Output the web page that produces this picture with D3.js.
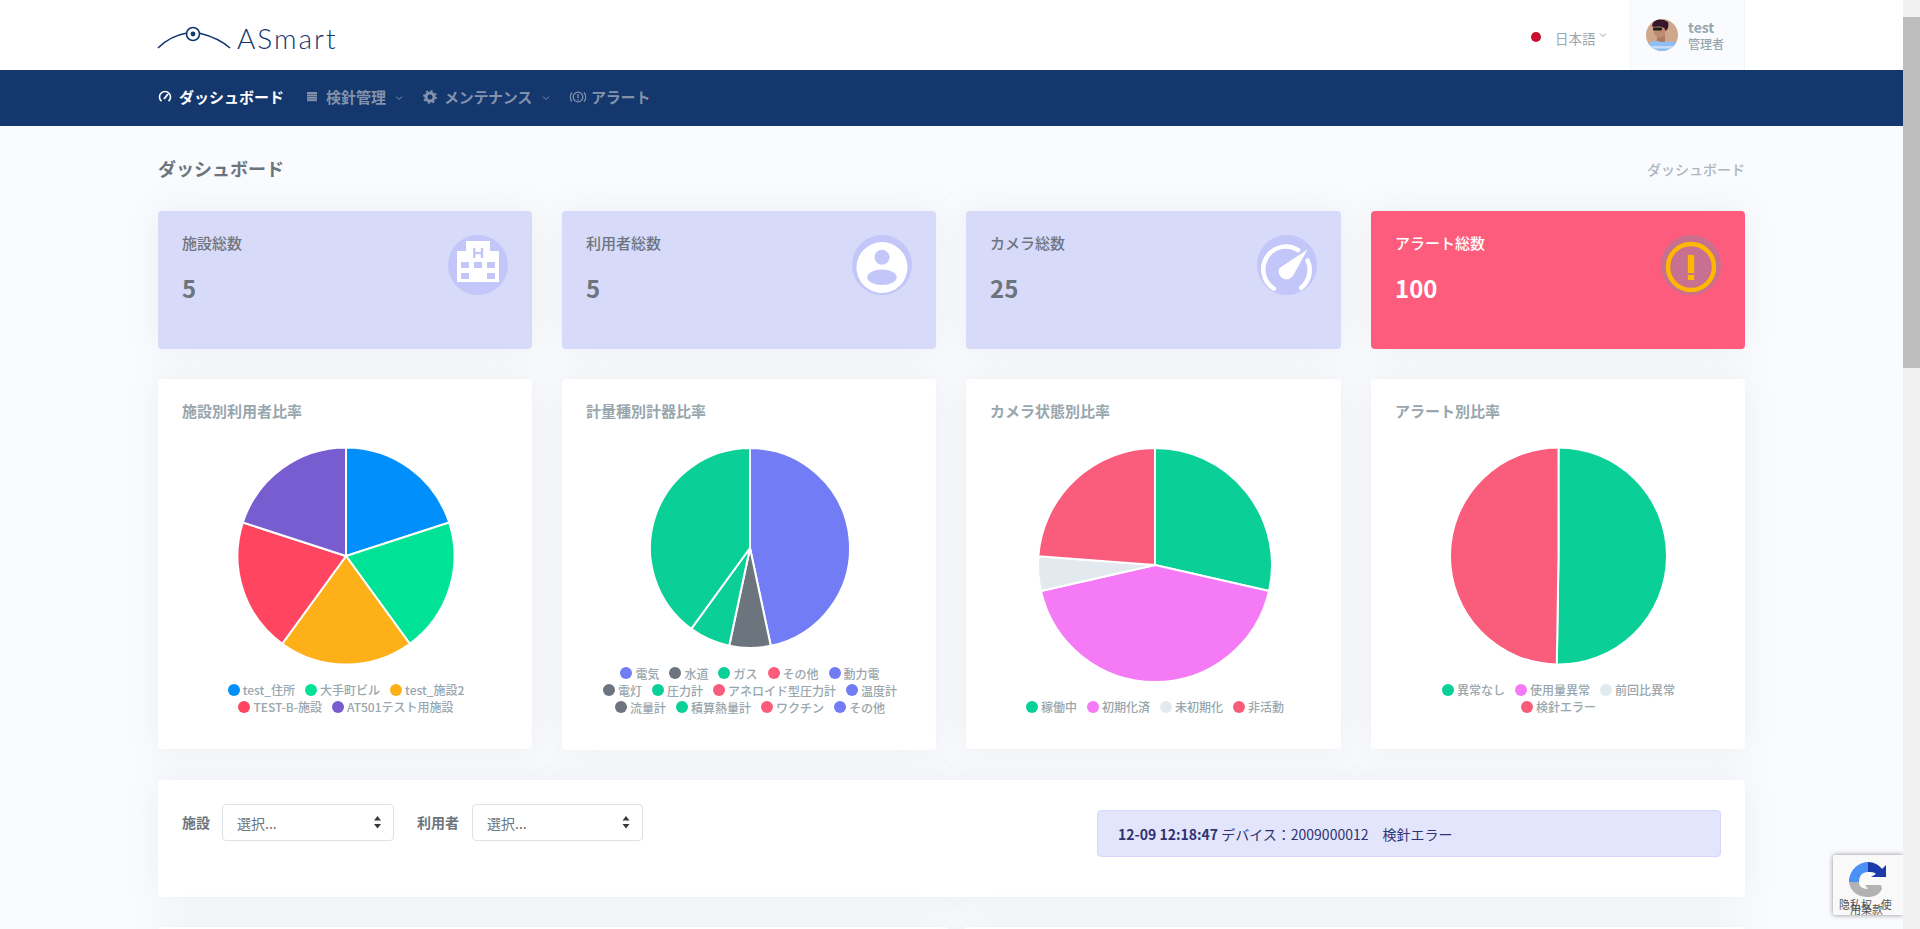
<!DOCTYPE html>
<html lang="ja">
<head>
<meta charset="utf-8">
<title>ダッシュボード</title>
<script src="https://d3js.org/d3.v7.min.js"></script>
<style>
  html, body { margin: 0; padding: 0; overflow: hidden; }
  body { width: 1920px; height: 929px; background: #fafbfe; font-family: "Noto Sans CJK JP", "Noto Sans", sans-serif; color: #6c757d; }
  #page { position: relative; width: 1920px; height: 929px; overflow: hidden; }
  .abs { position: absolute; white-space: nowrap; }
  .panel { position: absolute; background: #fff; border-radius: 4px; box-shadow: 0 0 35px rgba(154,161,171,.15); }
  .legend { position: absolute; width: 310px; display: flex; flex-wrap: wrap; justify-content: center; font-size: 12px; font-weight: 500; color: #98a6ad; line-height: 17px; }
  .legend .item { display: flex; align-items: center; margin: 0 5px; height: 17px; }
  .legend i { display: block; width: 12px; height: 12px; border-radius: 50%; margin-right: 3px; }
  svg { position: absolute; left: 0; top: 0; overflow: visible; }
</style>
</head>
<body>
<div id="page"></div>

<script>
// summary cards
const cardLabels = ["施設総数", "利用者総数", "カメラ総数", "アラート総数"];
const cardValues = [5, 5, 25, 100];

// pie 1
const facilityNames = ["test_住所", "大手町ビル", "test_施設2", "TEST-B-施設", "AT501テスト用施設"];
const facilityUsers = [1, 1, 1, 1, 1];
const facilityColors = ["#008ffb", "#00e396", "#feb019", "#ff4560", "#775dd0"];

// pie 2
const meterNames = ["電気", "水道", "ガス", "その他", "動力電", "電灯", "圧力計", "アネロイド型圧力計", "温度計", "流量計", "積算熱量計", "ワクチン", "その他"];
const meterCounts = [7, 1, 1, 0, 0, 0, 6, 0, 0, 0, 0, 0, 0];
const meterColors = ["#727cf5", "#6c757d", "#0acf97", "#fa5c7c", "#727cf5", "#6c757d", "#0acf97", "#fa5c7c", "#727cf5", "#6c757d", "#0acf97", "#fa5c7c", "#727cf5"];

// pie 3
const cameraNames = ["稼働中", "初期化済", "未初期化", "非活動"];
const cameraCounts = [6, 9, 1, 5];
const cameraColors = ["#0acf97", "#f57af5", "#e3eaef", "#fa5c7c"];

// pie 4
const alertNames = ["異常なし", "使用量異常", "前回比異常", "検針エラー"];
const alertCounts = [101, 0, 0, 100];
const alertColors = ["#0acf97", "#f57af5", "#e3eaef", "#fa5c7c"];

const navLabels = ["ダッシュボード", "検針管理", "メンテナンス", "アラート"];
const chartTitles = ["施設別利用者比率", "計量種別計器比率", "カメラ状態別比率", "アラート別比率"];

const page = d3.select("#page");

function box(x, y, w, h, bg) {
  return page.append("div").attr("class", "abs")
    .style("left", x + "px").style("top", y + "px")
    .style("width", w + "px").style("height", h + "px")
    .style("background", bg);
}
function label(x, cy, txt, size, weight, color) {
  return page.append("div").attr("class", "abs")
    .style("left", x + "px").style("top", (cy - 15) + "px")
    .style("line-height", "30px")
    .style("font-size", size + "px").style("font-weight", weight)
    .style("color", color).text(txt);
}
function panel(x, y, w, h) {
  return page.append("div").attr("class", "panel")
    .style("left", x + "px").style("top", y + "px")
    .style("width", w + "px").style("height", h + "px");
}

// header and menu bar
box(0, 0, 1903, 70, "#fff");
box(0, 70, 1903, 56, "#14376d");
box(1630, 0, 115, 70, "#fafbfe")
  .style("border-left", "1px solid #f1f3fa").style("border-right", "1px solid #f1f3fa").style("box-sizing", "border-box");

label(237, 38, "ASmart", 28, 300, "#14376d").style("font-family", "Lato").style("letter-spacing", "2px");
label(179, 97, navLabels[0], 15, 700, "#fff");
label(326, 97, navLabels[1], 15, 700, "#8392ab");
label(444, 97, navLabels[2], 15, 700, "#8392ab").style("letter-spacing", "-0.3px");
label(591, 97, navLabels[3], 15, 700, "#8392ab").style("letter-spacing", "-0.2px");
label(1555, 38, "日本語", 13.5, 400, "#98a6ad");
label(1688, 27, "test", 14, 700, "#98a6ad");
label(1688, 43.5, "管理者", 12, 500, "#98a6ad");

// page title
label(158, 168, "ダッシュボード", 18, 700, "#6c757d");
label(1647, 169, "ダッシュボード", 14, 500, "#adb5bd");

// cards sit in four equal columns
const cardX = [158, 562, 966, 1371];
const cardW = [374, 374, 375, 374];

cardLabels.forEach((t, i) => {
  const alert = i === 3;
  panel(cardX[i], 211, cardW[i], 138).style("background", alert ? "#fe5c7c" : "#d8daf9");
  label(cardX[i] + 24, 243, t, 15, 500, alert ? "#fff" : "#6c757d");
  label(cardX[i] + 24, 288, cardValues[i], 24, 700, alert ? "#fff" : "#6c757d");
});

// chart panels
chartTitles.forEach((t, i) => {
  panel(cardX[i], 379, cardW[i], i === 1 ? 371 : 370);
  label(cardX[i] + 24, 411, t, 15, 700, "#98a6ad");
});

// filter row
panel(158, 780, 1587, 117);
label(182, 822, "施設", 14, 700, "#6c757d");
label(417, 822, "利用者", 14, 700, "#6c757d");
[[222, 172], [472, 171]].forEach(([x, w]) => {
  box(x, 804, w, 37, "#fff").style("border", "1px solid #dee2e6").style("border-radius", "4px").style("box-sizing", "border-box");
  label(x + 15, 823, "選択...", 14, 400, "#6c757d");
});
box(1097, 810, 624, 47, "#e3e5fc").style("border", "1px solid #d5d8fb").style("border-radius", "4px").style("box-sizing", "border-box");
const alertLine = label(1118, 834, "", 14, 400, "#2f3371");
alertLine.append("b").text("12-09 12:18:47");
alertLine.append("span").text(" デバイス：2009000012　検針エラー");

// next row of panels, cut by the window
panel(158, 927, 791, 60);
panel(964, 927, 781, 60);

// all the vector work goes in one overlay
const svg = page.append("svg").attr("width", 1920).attr("height", 929);

// pies
const pies = [
  {cx: 346, cy: 556, r: 108.5, legendY: 681, names: facilityNames, values: facilityUsers, colors: facilityColors},
  {cx: 750, cy: 548, r: 100, legendY: 664.5, names: meterNames, values: meterCounts, colors: meterColors},
  {cx: 1155, cy: 565, r: 117, legendY: 698, names: cameraNames, values: cameraCounts, colors: cameraColors},
  {cx: 1558.5, cy: 556, r: 108.5, legendY: 681, names: alertNames, values: alertCounts, colors: alertColors}
];

pies.forEach(p => {
  const slices = d3.pie().sort(null)(p.values).map((s, i) => ({...s, color: p.colors[i]})).filter(s => s.value > 0);
  svg.append("g")
    .attr("transform", `translate(${p.cx},${p.cy})`)
    .selectAll("path")
    .data(slices)
    .join("path")
      .attr("d", d3.arc().innerRadius(0).outerRadius(p.r))
      .attr("fill", d => d.color)
      .attr("stroke", "#fff")
      .attr("stroke-width", 2);

  const legend = page.append("div").attr("class", "legend")
    .style("left", (p.cx - 155) + "px").style("top", p.legendY + "px");
  const items = legend.selectAll(".item").data(p.names).join("div").attr("class", "item");
  items.append("i").style("background", (d, i) => p.colors[i]);
  items.append("span").text(d => d);
});

// card icons
const iconX = [478, 882, 1287, 1691];
iconX.forEach((x, i) => {
  svg.append("circle").attr("cx", x).attr("cy", 265).attr("r", 30)
    .attr("fill", i === 3 ? "#c7708f" : "#c3c6f8");
});

// building
const b = svg.append("g").attr("transform", "translate(478,265)");
b.append("path").attr("fill", "#fff").attr("d", "M-21,17V-14H-12V-24H12V-14H21V17Z");
const bCut = [[-17, -3, 8, 6], [-4, -3, 8, 6], [9, -3, 8, 6], [-17, 8, 8, 6], [9, 8, 8, 6], [-5, -17, 2.4, 10], [2.8, -17, 2.4, 10], [-3, -13, 6, 2.2]];
b.selectAll("rect").data(bCut).join("rect")
  .attr("x", d => d[0]).attr("y", d => d[1]).attr("width", d => d[2]).attr("height", d => d[3])
  .attr("fill", "#c3c6f8");

// person
const u = svg.append("g").attr("transform", "translate(882,265)");
u.append("circle").attr("cy", 2.5).attr("r", 25.5).attr("fill", "#fff");
u.append("circle").attr("cy", -7.7).attr("r", 7.5).attr("fill", "#c3c6f8");
u.append("ellipse").attr("cy", 12.3).attr("rx", 14.7).attr("ry", 7.7).attr("fill", "#c3c6f8");

// gauge
const g = svg.append("g").attr("transform", "translate(1287,265)");
g.append("path").attr("fill", "none").attr("stroke", "#fff").attr("stroke-width", 4.5).attr("stroke-linecap", "round")
  .attr("d", "M-13,23.6A22.7,22.7 0 0 1 11,-15");
g.append("path").attr("fill", "none").attr("stroke", "#fff").attr("stroke-width", 4.5).attr("stroke-linecap", "round")
  .attr("d", "M20.6,-4.5A22.7,22.7 0 0 1 14,22.9");
g.append("path").attr("fill", "#fff").attr("d", "M20.5,-15.5L6.5,10A7.5,7.5 0 1 1 -7.5,3Z");

// alert
const a = svg.append("g").attr("transform", "translate(1691,265)");
a.append("circle").attr("cy", 2).attr("r", 23).attr("fill", "none").attr("stroke", "#ffb800").attr("stroke-width", 4.5);
a.append("rect").attr("x", -3.2).attr("y", -10).attr("width", 6.4).attr("height", 18).attr("fill", "#ffb800");
a.append("rect").attr("x", -3.2).attr("y", 10).attr("width", 6.4).attr("height", 5).attr("fill", "#ffb800");

// logo
const logo = svg.append("g").attr("fill", "none").attr("stroke", "#14376d");
logo.append("path").attr("stroke-width", 1.6).attr("d", "M158,48C166,40 175,35 187,33M199,33C211,36 221,40 230,48");
logo.append("circle").attr("cx", 193).attr("cy", 34).attr("r", 6.5).attr("stroke-width", 1.6);
logo.append("circle").attr("cx", 193).attr("cy", 34).attr("r", 2.4).attr("fill", "#14376d").attr("stroke", "none");

// menu icons
const navMuted = "#8392ab";
const n0 = svg.append("g").attr("transform", "translate(165,97)").attr("fill", "none").attr("stroke", "#fff").attr("stroke-width", 1.6);
n0.append("path").attr("d", "M-3.5,4.2A5.5,5.5 0 1 1 3.5,4.2");
n0.append("path").attr("d", "M-1,2L3,-3").attr("stroke-width", 2);
const listRows = [-5, -2.6, -0.2, 2.2];
svg.selectAll(".navlist").data(listRows).join("rect")
  .attr("x", 307).attr("y", d => 97 + d).attr("width", 10).attr("height", 2).attr("fill", navMuted);
svg.append("circle").attr("cx", 430).attr("cy", 97).attr("r", 4).attr("fill", "none").attr("stroke", navMuted).attr("stroke-width", 3);
svg.append("circle").attr("cx", 430).attr("cy", 97).attr("r", 6).attr("fill", "none").attr("stroke", navMuted).attr("stroke-width", 2).attr("stroke-dasharray", "2 2.7");
const n3 = svg.append("g").attr("fill", "none").attr("stroke", navMuted).attr("stroke-width", 1.3);
n3.append("circle").attr("cx", 578).attr("cy", 97).attr("r", 4.8);
n3.append("path").attr("d", "M572,92.5A7,7 0 0 0 572,101.5M584,92.5A7,7 0 0 1 584,101.5");
n3.append("path").attr("d", "M578,94V98M578,99.2V100.6");
const chev = (x, y, c) => svg.append("path").attr("d", `M${x - 3},${y - 1.5}L${x},${y + 1.5}L${x + 3},${y - 1.5}`)
  .attr("fill", "none").attr("stroke", c).attr("stroke-width", 1);
chev(399, 98, navMuted);
chev(546, 98, navMuted);
chev(1603, 35, "#98a6ad");

// language dot and avatar
svg.append("circle").attr("cx", 1536).attr("cy", 37).attr("r", 5).attr("fill", "#c8102e");
svg.append("clipPath").attr("id", "avatarClip").append("circle").attr("cx", 1662).attr("cy", 35).attr("r", 16);
const av = svg.append("g").attr("clip-path", "url(#avatarClip)");
av.append("rect").attr("x", 1646).attr("y", 19).attr("width", 32).attr("height", 32).attr("fill", "#cfa88c");
av.append("rect").attr("x", 1657).attr("y", 35).attr("width", 8).attr("height", 8).attr("fill", "#a97c62");
av.append("path").attr("fill", "#8fbdf5").attr("d", "M1646,51V45C1651,41 1656,40 1661,42C1667,42 1673,40 1678,44V51Z");
av.append("path").attr("fill", "#c4dcf8").attr("d", "M1648,46H1676V48.5H1648Z");
av.append("ellipse").attr("cx", 1659.5).attr("cy", 30).attr("rx", 6).attr("ry", 8).attr("fill", "#bb8c70");
av.append("path").attr("fill", "#35192a").attr("d", "M1652.5,27C1651,20 1660,17 1668,22C1669,26 1668,30 1665.5,31C1665.5,27 1660,25.5 1652.5,27Z");
av.append("rect").attr("x", 1653).attr("y", 27.5).attr("width", 9).attr("height", 3).attr("rx", 1).attr("fill", "#1e1e1e");

// select arrows
[377.5, 626].forEach(x => {
  svg.append("path").attr("fill", "#343a40").attr("d", `M${x - 3.5},820.5L${x},816L${x + 3.5},820.5ZM${x - 3.5},824L${x},828.5L${x + 3.5},824Z`);
});

// recaptcha badge
box(1833, 855, 70, 60, "#f9f9f9").style("box-shadow", "0 0 5px rgba(128,128,128,.9)").style("border-radius", "2px 0 0 2px");
const svg2 = page.append("svg").attr("width", 1920).attr("height", 929);
const rc = svg2.append("g").attr("transform", "translate(1868,882)");
rc.append("path").attr("fill", "#b2b2b2").attr("d", "M-19,0H-9C-9,5 -5,7 0,7L-3,3H13L14,7C11,13 6,15 0,15C-10,15 -18,9 -19,0Z");
rc.append("path").attr("fill", "#4a90f5").attr("d", "M-19,0C-19,-11 -10,-20 0,-20V-10C-6,-10 -9,-6 -9,0Z");
rc.append("path").attr("fill", "#1c3aa9").attr("d", "M0,-20C6,-20 11,-17 14,-13L18,-17V-5H3L8,-8C6,-10 3,-10 0,-10Z");
const rcFont = "Noto Sans CJK SC";
label(1839, 904, "隐私权 - 使", 11, 400, "#555").style("font-family", rcFont);
label(1850, 909, "用条款", 11, 400, "#555").style("font-family", rcFont);

// scrollbar
box(1903, 0, 17, 929, "#f1f1f1");
box(1903, 17, 17, 351, "#bdbdbd");
svg2.append("path").attr("fill", "#505050").attr("d", "M1911.5,6L1915.5,12H1907.5ZM1911.5,923L1907.5,917H1915.5Z");
</script>
</body>
</html>
